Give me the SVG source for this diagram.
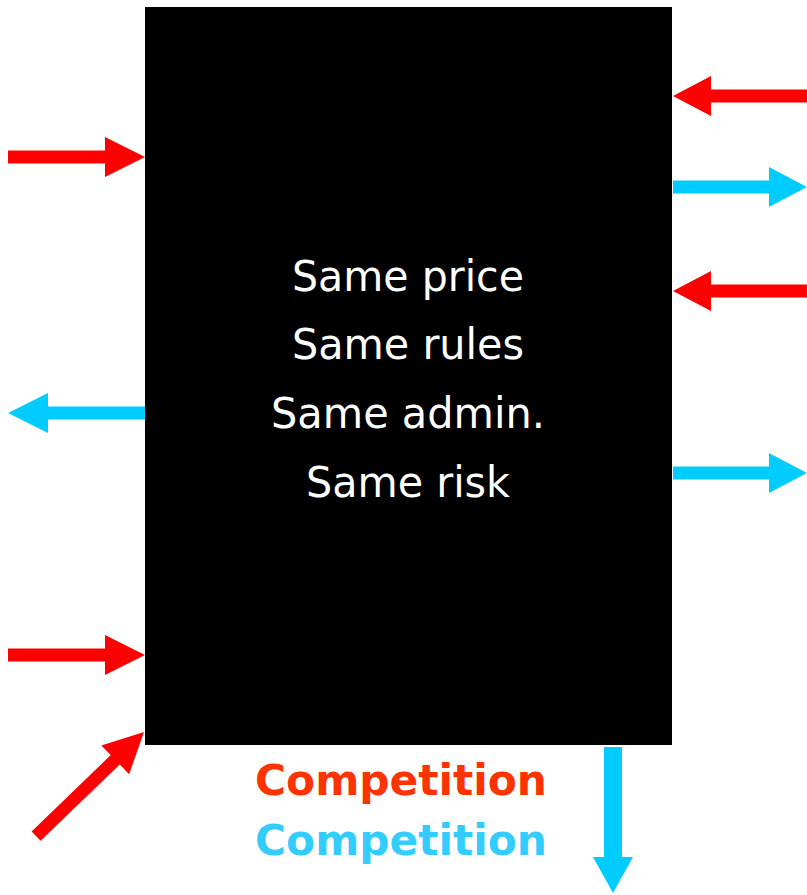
<svg xmlns="http://www.w3.org/2000/svg" width="807" height="895" viewBox="0 0 807 895">
<style>
.red{fill:#FF0000}
.blue{fill:#00CCFF}
.main{font-family:"DejaVu Sans",Verdana,sans-serif;font-size:42px;fill:#FFFFFF;text-anchor:middle}
.comp{font-family:"DejaVu Sans",Verdana,sans-serif;font-size:42px;font-weight:bold;text-anchor:middle}
</style>
<defs>
<path id="arr" d="M0,0 L-40,-20 L-40,-6.5 L-137,-6.5 L-137,6.5 L-40,6.5 L-40,20 Z"/>
<path id="arrS" d="M0,0 L-38,-20 L-38,-6.5 L-134,-6.5 L-134,6.5 L-38,6.5 L-38,20 Z"/>
<path id="arrL" d="M0,0 L-40,-20 L-40,-6.5 L-150,-6.5 L-150,6.5 L-40,6.5 L-40,20 Z"/>
</defs>
<rect width="807" height="895" fill="#FFFFFF"/>
<g id="box">
<rect x="145" y="7" width="527" height="738" fill="#000000"/>
<text class="main" x="408" y="291" textLength="232" lengthAdjust="spacingAndGlyphs">Same price</text>
<text class="main" x="408" y="359" textLength="232" lengthAdjust="spacingAndGlyphs">Same rules</text>
<text class="main" x="408" y="428" textLength="274" lengthAdjust="spacingAndGlyphs">Same admin.</text>
<text class="main" x="408" y="497" textLength="204" lengthAdjust="spacingAndGlyphs">Same risk</text>
</g>
<g id="labels">
<text class="comp" x="401" y="795" fill="#FF3300" textLength="292" lengthAdjust="spacingAndGlyphs">Competition</text>
<text class="comp" x="401" y="855" fill="#33CCFF" textLength="292" lengthAdjust="spacingAndGlyphs">Competition</text>
</g>
<g id="connectors">
<use href="#arr" class="red" transform="translate(145,157)"/>
<use href="#arr" class="red" transform="translate(145,655)"/>
<use href="#arr" class="blue" transform="translate(8,413) rotate(180)"/>
<use href="#arrL" class="red" transform="translate(144,732) rotate(-44)"/>
<use href="#arrS" class="red" transform="translate(673,96) rotate(180)"/>
<use href="#arrS" class="blue" transform="translate(807,187)"/>
<use href="#arrS" class="red" transform="translate(673,291) rotate(180)"/>
<use href="#arrS" class="blue" transform="translate(807,473)"/>
<path class="blue" d="M613,893 L593,857 L604,857 L604,747 L622,747 L622,857 L633,857 Z"/>
</g>
</svg>
